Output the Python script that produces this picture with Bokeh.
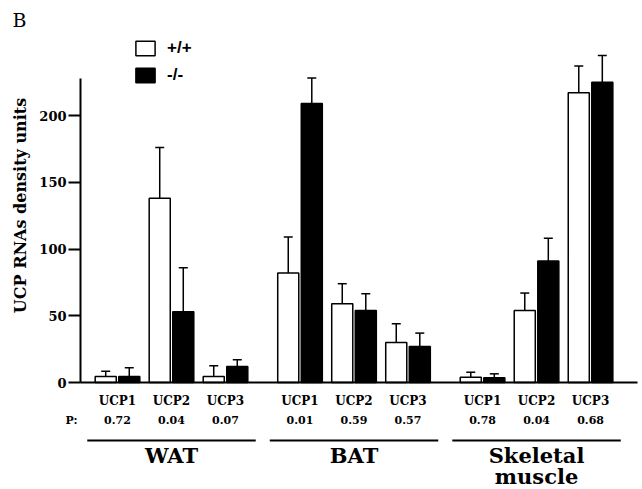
from bokeh.plotting import figure
from bokeh.models import (ColumnDataSource, Range1d, FixedTicker, LinearAxis,
                          Whisker, TeeHead, Label)
from bokeh.embed import file_html
from bokeh.resources import INLINE

# ---- data ----
tissues = ["WAT", "BAT", "Skeletal muscle"]
tissue_labels = ["WAT", "BAT", "Skeletal\nmuscle"]
ucps = ["UCP1", "UCP2", "UCP3"]
wt = [4.5, 138, 4.5, 82, 59, 30, 4, 54, 217]
wt_err = [4, 38, 8, 27, 15, 14, 3.7, 13, 20]
ko = [4.5, 53, 12, 209, 54, 27, 3.5, 91, 225]
ko_err = [6.5, 33, 5, 19, 12.5, 10, 3, 17, 20]
p_values = ["0.72", "0.04", "0.07", "0.01", "0.59", "0.57", "0.78", "0.04", "0.68"]
y_ticks = [0, 50, 100, 150, 200]
y_axis_top = 228

SERIF = "DejaVu Serif"
W, H = 640, 488
PX_UNIT = 54.0          # pixels per category step
GAP = 0.38              # extra gap between tissue groups (in category steps)
OFF, BW = 0.218, 0.39   # dodge offset and bar width

xs = [g * (len(ucps) + GAP) + j for g in range(len(tissues)) for j in range(len(ucps))]
src = ColumnDataSource(dict(
    x=xs,
    xw=[x - OFF for x in xs],
    xk=[x + OFF for x in xs],
    ucp=[u for t in tissues for u in ucps],
    pval=p_values,
    wt=wt, ko=ko,
    wt_top=[v + e for v, e in zip(wt, wt_err)],
    ko_top=[v + e for v, e in zip(ko, ko_err)],
))

x0 = -117 / PX_UNIT
y_scale = 1.335
p = figure(width=W, height=H,
           x_range=Range1d(x0, x0 + W / PX_UNIT),
           y_range=Range1d(-(H - 382) / y_scale, 382 / y_scale),
           output_backend="svg", toolbar_location=None, x_axis_location=None,
           min_border_left=0, min_border_right=0, min_border_top=0, min_border_bottom=0,
           outline_line_color=None)
p.xgrid.visible = False
p.ygrid.visible = False

axis_x = (80 - 117) / PX_UNIT
ax = p.yaxis[0]
ax.fixed_location = axis_x
ax.ticker = FixedTicker(ticks=y_ticks)
ax.bounds = (0, y_axis_top)
ax.axis_line_width = 2
ax.major_tick_line_width = 2
ax.major_tick_out = 12
ax.major_tick_in = 0
ax.minor_tick_line_color = None
ax.major_label_text_font = SERIF
ax.major_label_text_font_style = "bold"
ax.major_label_text_font_size = "13px"
ax.major_label_text_color = "black"
ax.major_label_standoff = 2

# horizontal baseline as an x axis at y = 0
xb = LinearAxis(fixed_location=0, bounds=(axis_x, (637 - 117) / PX_UNIT),
                axis_line_width=2, major_tick_line_color=None, minor_tick_line_color=None,
                major_label_text_font_size="0px", ticker=FixedTicker(ticks=[]))
p.add_layout(xb, "below")

p.vbar(x="xw", top="wt", width=BW, source=src,
       fill_color="white", line_color="black", line_width=1.5, legend_label="+/+")
p.vbar(x="xk", top="ko", width=BW, source=src,
       fill_color="black", line_color="black", line_width=1.5, legend_label="-/-")

for base, lo, hi in [("xw", "wt", "wt_top"), ("xk", "ko", "ko_top")]:
    p.add_layout(Whisker(base=base, lower=lo, upper=hi,
                         source=src, dimension="height", line_width=1.5,
                         lower_head=None,
                         upper_head=TeeHead(size=9, line_width=1.5)))

# labels under bars
p.text(x="x", y=-13.5, text="ucp", source=src, text_align="center", text_baseline="middle",
       text_font={"value": SERIF}, text_font_style="bold", text_font_size="12px",
       text_color="black")
p.text(x="x", y=-28.1, text="pval", source=src, text_align="center", text_baseline="middle",
       text_font={"value": SERIF}, text_font_style="bold", text_font_size="11px",
       text_color="black")

n = len(ucps)
gsrc = ColumnDataSource(dict(
    xc=[(xs[g * n] + xs[g * n + n - 1]) / 2 for g in range(len(tissues))],
    x0=[xs[g * n] - 0.56 for g in range(len(tissues))],
    x1=[xs[g * n + n - 1] + 0.56 for g in range(len(tissues))],
    lab=tissue_labels,
))
p.segment(x0="x0", x1="x1", y0=-43.4, y1=-43.4, source=gsrc,
          line_color="black", line_width=2)
p.text(x="xc", y=-45.6, text="lab", source=gsrc, text_align="center", text_baseline="top",
       text_font={"value": SERIF}, text_font_style="bold", text_font_size="21px",
       text_line_height=0.84, text_color="black")

# P: label
p.add_layout(Label(x=65, y=-28.1, x_units="screen", y_units="data", text="P:",
                   text_font=SERIF, text_font_style="bold", text_font_size="11px",
                   text_baseline="middle", text_align="left", text_color="black"))
# y axis title
p.add_layout(Label(x=20, y=H - 205, x_units="screen", y_units="screen",
                   text="UCP RNAs density units", angle=1.5708,
                   text_font=SERIF, text_font_style="bold", text_font_size="16px",
                   text_baseline="middle", text_align="center", text_color="black"))
# panel letter
p.add_layout(Label(x=12, y=H - 19.5, x_units="screen", y_units="screen", text="B",
                   text_font=SERIF, text_font_size="19px",
                   text_baseline="middle", text_align="left", text_color="black"))

lg = p.legend[0]
lg.location = (133, H - 85)
lg.glyph_width = 24
lg.glyph_height = 18
lg.label_height = 18
lg.spacing = 7
lg.padding = 0
lg.margin = 0
lg.border_line_alpha = 0
lg.background_fill_alpha = 0
lg.label_text_font = "Liberation Sans"
lg.label_text_font_style = "bold"
lg.label_text_font_size = "17px"
lg.label_text_color = "black"
lg.label_standoff = 10

open("out.html", "w").write(file_html(p, INLINE))
